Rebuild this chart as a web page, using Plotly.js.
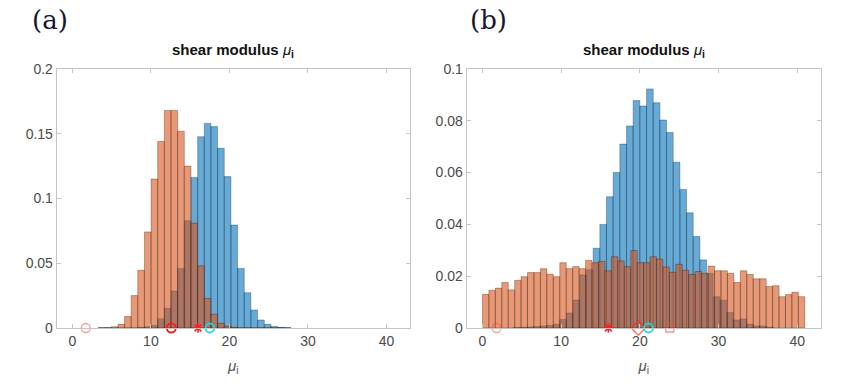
<!DOCTYPE html>
<html>
<head>
<meta charset="utf-8">
<script src="https://cdn.plot.ly/plotly-3.0.1.min.js"></script>
<style>
  html, body { margin: 0; padding: 0; background: #fff; }
  #chart { width: 846px; height: 390px; }
</style>
</head>
<body>
<div id="chart"></div>
<script>
// panel (a): bin centres and probabilities
const binsA = [3.70, 4.55, 5.40, 6.24, 7.07, 7.91, 8.75, 9.60, 10.45, 11.29, 12.14, 12.99,
  13.83, 14.68, 15.52, 16.38, 17.22, 18.07, 18.92, 19.77, 20.62, 21.47, 22.31, 23.16,
  24.02, 24.87, 25.72, 26.56, 27.41];
const blueA = [0, 0, 0, 0, 0, 0, 0.0005, 0.001, 0.002, 0.0072, 0.0152, 0.0286,
  0.046, 0.0829, 0.1163, 0.1477, 0.158, 0.1555, 0.1387, 0.1169, 0.0795, 0.046, 0.0273, 0.0139,
  0.0062, 0.0028, 0.0012, 0.0005, 0.0002];
const orangeA = [0.0002, 0.0004, 0.001, 0.0028, 0.0088, 0.025, 0.0446, 0.0742, 0.115, 0.144, 0.168, 0.168,
  0.152, 0.125, 0.081, 0.048, 0.0227, 0.0106, 0.0036, 0.0015, 0.0006, 0, 0, 0,
  0, 0, 0, 0, 0];

// panel (b)
const binsBlueB = [4.32, 5.17, 6.02, 6.86, 7.71, 8.56, 9.41, 10.25, 11.10, 11.95, 12.80, 13.64,
  14.49, 15.34, 16.18, 17.03, 17.88, 18.73, 19.57, 20.42, 21.27, 22.12, 22.96, 23.81,
  24.66, 25.51, 26.35, 27.20, 28.05, 28.89, 29.74, 30.59, 31.43, 32.28, 33.13, 33.98,
  34.82, 35.67, 36.52];
const blueB = [0.0002, 0.0003, 0.0004, 0.0006, 0.0008, 0.001, 0.0014, 0.0033, 0.0058, 0.0108, 0.0205, 0.0225,
  0.0308, 0.040, 0.0507, 0.060, 0.071, 0.078, 0.0878, 0.0857, 0.0923, 0.087, 0.0803, 0.0755,
  0.064, 0.0535, 0.0445, 0.0353, 0.0263, 0.0211, 0.0121, 0.0107, 0.006, 0.0031, 0.0035, 0.0015,
  0.0008, 0.0008, 0.0003];
const binsOrangeB = [0.41, 1.23, 2.05, 2.87, 3.69, 4.51, 5.32, 6.14, 6.96, 7.78, 8.60, 9.42,
  10.24, 11.06, 11.88, 12.70, 13.51, 14.33, 15.15, 15.97, 16.79, 17.61, 18.43, 19.25,
  20.07, 20.89, 21.70, 22.52, 23.34, 24.16, 24.98, 25.80, 26.62, 27.44, 28.26, 29.08,
  29.89, 30.71, 31.53, 32.35, 33.17, 33.99, 34.81, 35.63, 36.45, 37.27, 38.08, 38.90,
  39.72, 40.54];
const orangeB = [0.0130, 0.0146, 0.0154, 0.0176, 0.0147, 0.0184, 0.0198, 0.0214, 0.0214, 0.0229, 0.0208, 0.0198,
  0.0252, 0.0229, 0.0237, 0.0229, 0.0261, 0.0252, 0.0257, 0.0221, 0.0275, 0.0259, 0.0237, 0.0299,
  0.0252, 0.0252, 0.0275, 0.0266, 0.0236, 0.0215, 0.0246, 0.0223, 0.0207, 0.0218, 0.0211, 0.0239,
  0.0221, 0.0221, 0.0211, 0.0176, 0.0221, 0.0207, 0.0190, 0.0190, 0.0160, 0.0163, 0.0121, 0.0129,
  0.0138, 0.0121];

// point estimates drawn on the baseline
const marksA = [1.7, 12.6, 16.0, 17.5];
const marksB = [1.8, 16.0, 19.8, 21.1, 23.8];
const markKindsA = ['start', 'est', 'true', 'mean'];
const markKindsB = ['start', 'true', 'median', 'mean', 'mode'];

const MARK_STYLE = {
  start:  { symbol: 'circle-open',   color: 'rgba(255,70,70,0.55)', size: 9, width: 1.3 },
  est:    { symbol: 'circle-open',   color: '#ff1a1a',              size: 9, width: 2 },
  true:   { symbol: 'asterisk-open', color: '#ff2020',              size: 8, width: 1.6 },
  mean:   { symbol: 'circle-open',   color: '#1fd6d6',              size: 9, width: 1.8 },
  median: { symbol: 'diamond-open',  color: 'rgba(255,40,40,0.75)', size: 11, width: 1.3 },
  mode:   { symbol: 'square-open',   color: 'rgba(255,70,70,0.6)',  size: 8, width: 1.3 },
};

const BLUE = 'rgba(0,114,189,0.6)';
const ORANGE = 'rgba(217,83,25,0.6)';
const EDGE = { color: 'rgba(0,0,0,0.28)', width: 1 };
const FONT = 'Liberation Sans, Arial, sans-serif';
const TITLE = '<b>shear modulus</b> <i>μ</i><sub><b>i</b></sub>';

function hist(x, y, w, color, xa, ya) {
  return { type: 'bar', x, y, width: w, xaxis: xa, yaxis: ya,
    marker: { color, line: EDGE }, hoverinfo: 'x+y', showlegend: false };
}

function marks(xs, kinds, xa, ya) {
  return kinds.map((k, i) => {
    const s = MARK_STYLE[k];
    return { type: 'scatter', mode: 'markers', x: [xs[i]], y: [0], xaxis: xa, yaxis: ya,
      cliponaxis: false, showlegend: false,
      marker: { symbol: s.symbol, size: s.size, color: s.color, line: { color: s.color, width: s.width } } };
  });
}

const traces = [
  hist(binsA, blueA, 0.847, BLUE, 'x', 'y'),
  hist(binsA, orangeA, 0.847, ORANGE, 'x', 'y'),
  hist(binsBlueB, blueB, 0.847, BLUE, 'x2', 'y2'),
  hist(binsOrangeB, orangeB, 0.819, ORANGE, 'x2', 'y2'),
  ...marks(marksA, markKindsA, 'x', 'y'),
  ...marks(marksB, markKindsB, 'x2', 'y2'),
];

const axisBase = {
  showline: true, linecolor: '#c4c4c4', linewidth: 1, mirror: 'ticks',
  ticks: 'inside', ticklen: 4, tickcolor: '#c4c4c4',
  showgrid: false, zeroline: false,
  tickfont: { family: FONT, size: 14, color: '#4a4a4a' },
};
const xBase = { ...axisBase, range: [-2, 43], tickvals: [0, 10, 20, 30, 40],
  title: { text: '<i>μ</i><sub>i</sub>', font: { family: FONT, size: 15, color: '#555' }, standoff: 12 } };

function titleNote(x, text) {
  return { text, xref: 'paper', yref: 'paper', x, y: 0.8231, yshift: 7,
    xanchor: 'center', yanchor: 'bottom', showarrow: false,
    font: { family: FONT, size: 15, color: '#111' } };
}
function panelNote(x, text) {
  return { text, xref: 'paper', yref: 'paper', x, y: 0.95, xanchor: 'left', yanchor: 'middle',
    showarrow: false, font: { family: 'DejaVu Serif, serif', size: 26, color: '#151530' } };
}

const layout = {
  width: 846, height: 390,
  margin: { l: 0, r: 0, t: 0, b: 0 },
  paper_bgcolor: '#fff', plot_bgcolor: '#fff',
  barmode: 'overlay', bargap: 0,
  showlegend: false,
  xaxis:  { ...xBase, domain: [0.067, 0.4846], anchor: 'y' },
  yaxis:  { ...axisBase, domain: [0.159, 0.8231], range: [0, 0.2], tickvals: [0, 0.05, 0.1, 0.15, 0.2], anchor: 'x' },
  xaxis2: { ...xBase, domain: [0.5516, 0.9704], anchor: 'y2' },
  yaxis2: { ...axisBase, domain: [0.159, 0.8231], range: [0, 0.1], tickvals: [0, 0.02, 0.04, 0.06, 0.08, 0.1], anchor: 'x2' },
  annotations: [
    titleNote(0.2758, TITLE),
    titleNote(0.761, TITLE),
    panelNote(0.036, '(a)'),
    panelNote(0.553, '(b)'),
  ],
};

Plotly.newPlot('chart', traces, layout, { staticPlot: true, displayModeBar: false });
</script>
</body>
</html>
